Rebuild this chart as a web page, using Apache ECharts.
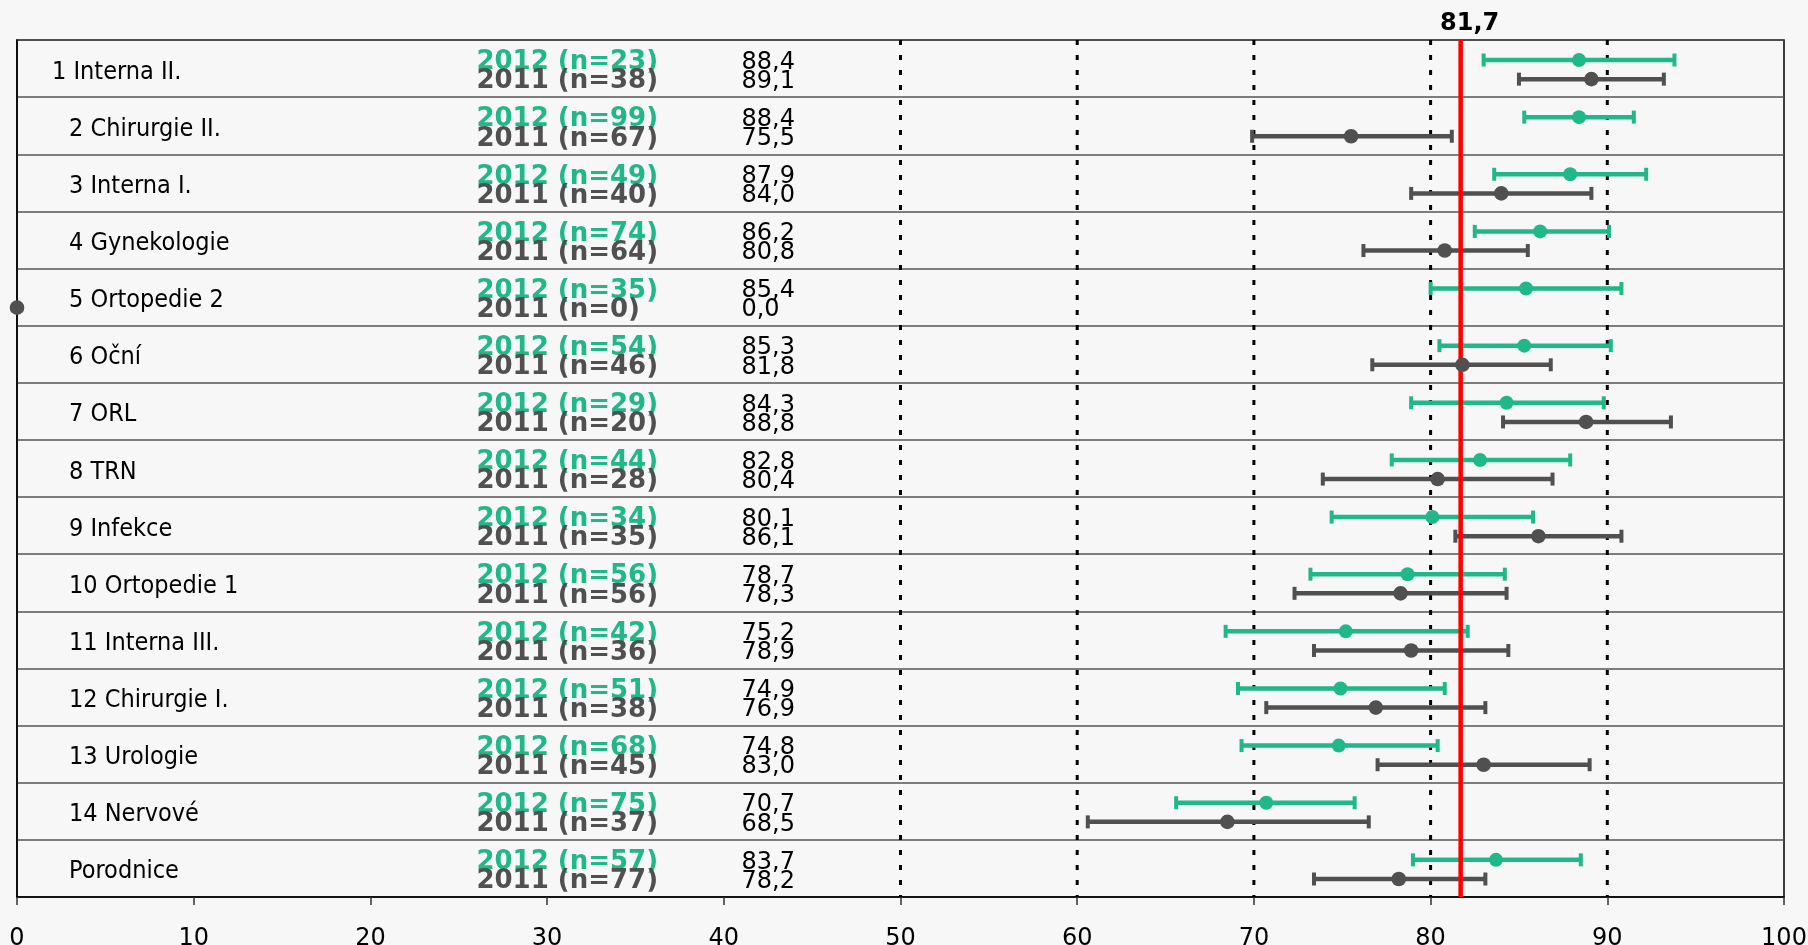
<!DOCTYPE html>
<html>
<head>
<meta charset="utf-8">
<title>Hodnocení oddělení 2012 / 2011</title>
<script src="https://cdn.jsdelivr.net/npm/echarts@6/dist/echarts.min.js"></script>
<style>
  html, body { margin: 0; padding: 0; background: #f7f7f7; }
  #chart { width: 1808px; height: 945px; }
</style>
</head>
<body>
<div id="chart"></div>
<script>
// Departments, top to bottom
const categories = [
  '1 Interna II.', '2 Chirurgie II.', '3 Interna I.', '4 Gynekologie', '5 Ortopedie 2',
  '6 Oční', '7 ORL', '8 TRN', '9 Infekce', '10 Ortopedie 1',
  '11 Interna III.', '12 Chirurgie I.', '13 Urologie', '14 Nervové', 'Porodnice'
];

// 2012: respondents, mean score, confidence interval
const n2012    = [23, 99, 49, 74, 35, 54, 29, 44, 34, 56, 42, 51, 68, 75, 57];
const mean2012 = [88.4, 88.4, 87.9, 86.2, 85.4, 85.3, 84.3, 82.8, 80.1, 78.7, 75.2, 74.9, 74.8, 70.7, 83.7];
const low2012  = [83.0, 85.3, 83.6, 82.5, 80.0, 80.5, 78.9, 77.8, 74.4, 73.2, 68.4, 69.1, 69.3, 65.6, 79.0];
const high2012 = [93.8, 91.5, 92.2, 90.1, 90.8, 90.2, 89.8, 87.9, 85.8, 84.2, 82.1, 80.8, 80.4, 75.7, 88.5];

// 2011: respondents, mean score, confidence interval
const n2011    = [38, 67, 40, 64, 0, 46, 20, 28, 35, 56, 36, 38, 45, 37, 77];
const mean2011 = [89.1, 75.5, 84.0, 80.8, 0.0, 81.8, 88.8, 80.4, 86.1, 78.3, 78.9, 76.9, 83.0, 68.5, 78.2];
const low2011  = [85.0, 69.9, 78.9, 76.2, null, 76.7, 84.1, 73.9, 81.4, 72.3, 73.4, 70.7, 77.0, 60.6, 73.4];
const high2011 = [93.2, 81.2, 89.1, 85.5, null, 86.8, 93.6, 86.9, 90.8, 84.3, 84.4, 83.1, 89.0, 76.5, 83.1];

// Overall hospital mean and dotted guide lines
const overallMean = 81.7;
const guideLines = [50, 60, 70, 80, 90];

// Axis range
const xMin = 0, xMax = 100, xStep = 10;

// ---- layout / style ----
const GREEN = '#20b789';
const GRAY = '#505050';
const LABEL_COL = 26.0;   // x position (axis units) of the "year (n=..)" column
const VALUE_COL = 41.0;   // x position (axis units) of the mean value column
const OFF_2012 = -0.15;   // vertical offset inside a row, in band fractions
const OFF_2011 = 0.185;
const TEXT_SHIFT = 2.5;   // px nudge so glyphs sit on the marker line

const fmt = v => v.toFixed(1).replace('.', ',');

function rows(means, lows, highs) {
  return categories.map((c, i) => [i, means[i], lows[i] == null ? '-' : lows[i], highs[i] == null ? '-' : highs[i]]);
}

function barRenderer(color, offset) {
  return function (params, api) {
    const low = api.value(2), high = api.value(3);
    if (low == null || high == null || isNaN(low) || isNaN(high)) return null;
    const cat = api.value(0);
    const band = api.size([0, 1])[1];
    const y = api.coord([0, cat])[1] + offset * band;
    const x1 = api.coord([low, cat])[0];
    const x2 = api.coord([high, cat])[0];
    const cap = 6.5;
    return {
      type: 'group',
      children: [
        { type: 'line', shape: { x1: x1, y1: y, x2: x2, y2: y }, style: { stroke: color, lineWidth: 4.5 } },
        { type: 'line', shape: { x1: x1, y1: y - cap, x2: x1, y2: y + cap }, style: { stroke: color, lineWidth: 4 } },
        { type: 'line', shape: { x1: x2, y1: y - cap, x2: x2, y2: y + cap }, style: { stroke: color, lineWidth: 4 } }
      ]
    };
  };
}

function dotRenderer(color, offset, year, ns, radius) {
  return function (params, api) {
    const i = params.dataIndex;
    const cat = api.value(0);
    const mean = api.value(1);
    const band = api.size([0, 1])[1];
    const p = api.coord([mean, cat]);
    const y = p[1] + offset * band;
    const lx = api.coord([LABEL_COL, cat])[0];
    const vx = api.coord([VALUE_COL, cat])[0];
    return {
      type: 'group',
      children: [
        { type: 'circle', shape: { cx: p[0], cy: y, r: radius }, style: { fill: color } },
        {
          type: 'text', x: lx, y: y + TEXT_SHIFT,
          style: {
            text: year + ' (n=' + ns[i] + ')', fill: color,
            fontSize: 26, fontWeight: 'bold', fontFamily: 'DejaVu Sans',
            align: 'left', verticalAlign: 'middle'
          }
        },
        {
          type: 'text', x: vx, y: y + TEXT_SHIFT,
          style: {
            text: fmt(mean), fill: '#000',
            fontSize: 24, fontFamily: 'DejaVu Sans',
            align: 'left', verticalAlign: 'middle'
          }
        }
      ]
    };
  };
}

const chart = echarts.init(document.getElementById('chart'), null, { renderer: 'canvas' });

chart.setOption({
  backgroundColor: '#f7f7f7',
  animation: false,
  grid: {
    left: 17, right: 24, top: 40, bottom: 48,
    outerBoundsMode: 'none', containLabel: false,
    show: true, borderColor: '#000', borderWidth: 1.5, backgroundColor: 'transparent'
  },
  xAxis: {
    type: 'value', min: xMin, max: xMax, interval: xStep,
    axisLine: { show: true, lineStyle: { color: '#000', width: 1.5 } },
    axisTick: { show: true, length: 8, lineStyle: { color: '#333', width: 1.5 } },
    splitLine: { show: false },
    axisLabel: { color: '#000', fontSize: 24, fontFamily: 'DejaVu Sans', margin: 30 }
  },
  yAxis: {
    type: 'category', data: categories, inverse: true,
    axisLine: { show: true, lineStyle: { color: '#000', width: 1.5 } },
    axisTick: { show: false },
    splitLine: { show: true, lineStyle: { color: '#555', width: 1.5 } },
    axisLabel: {
      inside: true, margin: 35, color: '#000',
      fontSize: 25, fontFamily: 'DejaVu Sans Condensed',
      formatter: (v, i) => (i === 0 ? '{a|' + v + '}' : '{b|' + v + '}'),
      rich: {
        a: { fontSize: 25, fontFamily: 'DejaVu Sans Condensed', color: '#000', padding: [7, 0, 0, 0] },
        b: { fontSize: 25, fontFamily: 'DejaVu Sans Condensed', color: '#000', padding: [7, 0, 0, 17] }
      }
    }
  },
  series: [
    {
      name: 'guides', type: 'custom', z: 1, silent: true,
      data: guideLines.map(v => [v, 0]), encode: { x: 0, y: 1 },
      renderItem: function (params, api) {
        const cs = params.coordSys;
        const x = api.coord([api.value(0), 0])[0];
        return {
          type: 'line',
          shape: { x1: x, y1: cs.y, x2: x, y2: cs.y + cs.height },
          style: { stroke: '#000', lineWidth: 3, lineDash: [5, 10] }
        };
      }
    },
    {
      name: '2012 interval', type: 'custom', z: 2, silent: true,
      data: rows(mean2012, low2012, high2012), encode: { x: [1, 2, 3], y: 0 },
      renderItem: barRenderer(GREEN, OFF_2012)
    },
    {
      name: '2011 interval', type: 'custom', z: 2, silent: true,
      data: rows(mean2011, low2011, high2011), encode: { x: [1, 2, 3], y: 0 },
      renderItem: barRenderer(GRAY, OFF_2011)
    },
    {
      name: 'overall', type: 'custom', z: 3, silent: true,
      data: [[overallMean, 0]], encode: { x: 0, y: 1 },
      renderItem: function (params, api) {
        const cs = params.coordSys;
        const v = api.value(0);
        const x = api.coord([v, 0])[0];
        return {
          type: 'group',
          children: [
            { type: 'line', shape: { x1: x, y1: cs.y, x2: x, y2: cs.y + cs.height }, style: { stroke: '#ff0000', lineWidth: 4.5 } },
            {
              type: 'text', x: x + 9, y: cs.y - 16,
              style: {
                text: fmt(v), fill: '#000', fontSize: 24, fontWeight: 'bold', fontFamily: 'DejaVu Sans',
                align: 'center', verticalAlign: 'middle'
              }
            }
          ]
        };
      }
    },
    {
      name: '2012', type: 'custom', z: 4, silent: true, clip: false,
      data: rows(mean2012, low2012, high2012), encode: { x: 1, y: 0 },
      renderItem: dotRenderer(GREEN, OFF_2012, 2012, n2012, 7)
    },
    {
      name: '2011', type: 'custom', z: 5, silent: true, clip: false,
      data: rows(mean2011, low2011, high2011), encode: { x: 1, y: 0 },
      renderItem: dotRenderer(GRAY, OFF_2011, 2011, n2011, 7.3)
    }
  ]
});
</script>
</body>
</html>
